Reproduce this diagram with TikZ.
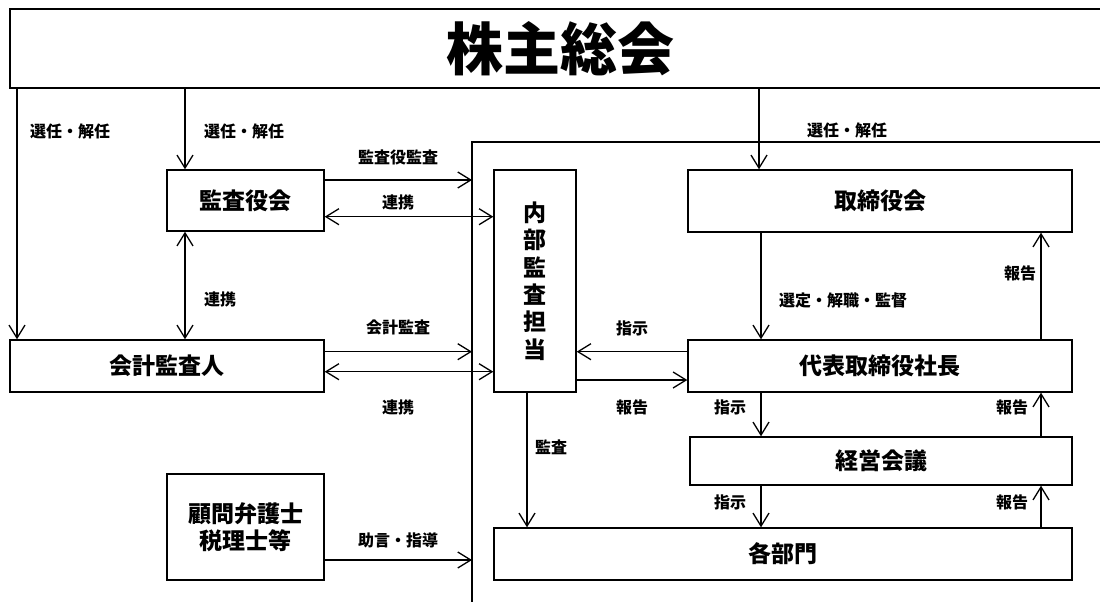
\documentclass[tikz,border=0pt]{standalone}
\usepackage{fontspec}
\setmainfont{Noto Sans CJK JP}
\usepackage{tikz}
\usetikzlibrary{arrows.meta, positioning}
\tikzstyle{box} = [draw, line width=1.4pt, inner sep=0pt, align=center, font=\bfseries\fontsize{23}{27.4}\selectfont]
\tikzstyle{lbl} = [inner sep=0pt, font=\bfseries\fontsize{16}{18}\selectfont]
\tikzstyle{line} = [draw, line width=1.3pt]
\tikzstyle{arr} = [line, -{Straight Barb[length=13pt,width=16pt]}]
\tikzstyle{darr} = [line, {Straight Barb[length=13pt,width=16pt]}-{Straight Barb[length=13pt,width=16pt]}]

\begin{document}
\begin{tikzpicture}[x=1pt, y=-1pt]
			\useasboundingbox (0,0) rectangle (1100,602);
			\node [box, minimum width=1100, minimum height=79, font=\bfseries\fontsize{57}{60}\selectfont] (soukai) at (560,48.5) {株主総会};
			\node [box, minimum width=157, minimum height=61] (kansa) at (245.5,200.5) {監査役会};
			\node [box, minimum width=314, minimum height=52] (kaikei) at (167,366) {会計監査人};
			\node [box, minimum width=157, minimum height=106] (komon) at (245.5,527) {顧問弁護士\\税理士等};
			\node [box, minimum width=82, minimum height=222] (naibu) at (535,281) {内\\部\\監\\査\\担\\当};
			\node [box, minimum width=384, minimum height=62] (torishimari) at (880,201) {取締役会};
			\node [box, minimum width=384, minimum height=52] (daihyo) at (880,366) {代表取締役社長};
			\node [box, minimum width=382, minimum height=48] (keiei) at (881,461) {経営会議};
			\node [box, minimum width=578, minimum height=52] (kakubu) at (783,554) {各部門};
			
			\node [lbl] (sennin1) at (70,131) {選任・解任};
			\node [lbl] (sennin2) at (244,131) {選任・解任};
			\node [lbl] (sennin3) at (847,130) {選任・解任};
			\node [lbl] (kansakansa) at (398,157) {監査役監査};
			\node [lbl] (renkei1) at (398,202) {連携};
			\node [lbl] (renkei2) at (220,299) {連携};
			\node [lbl] (kaikeikansa) at (398,327) {会計監査};
			\node [lbl] (renkei3) at (398,407) {連携};
			\node [lbl] (jogen) at (398,540) {助言・指導};
			\node [lbl] (shiji1) at (632,328) {指示};
			\node [lbl] (houkoku1) at (632,407) {報告};
			\node [lbl] (kansa2) at (551,447) {監査};
			\node [lbl] (sentei) at (843,300) {選定・解職・監督};
			\node [lbl] (houkoku2) at (1020,273) {報告};
			\node [lbl] (shiji2) at (730,407) {指示};
			\node [lbl] (houkoku3) at (1012,407) {報告};
			\node [lbl] (shiji3) at (730,502) {指示};
			\node [lbl] (houkoku4) at (1012,502) {報告};
			
			% company frame
			\coordinate (ft) at (472,142);
			\coordinate (fb) at (472,610);
			\coordinate (fr) at (1110,142);
			\path [line] (fb) -- (ft) -- (fr);
			
			\coordinate (xa) at (17,0);
			\coordinate (xb) at (185,0);
			\coordinate (xc) at (759,0);
			\coordinate (xd) at (761,0);
			\coordinate (xe) at (1041,0);
			\coordinate (xf) at (527,0);
			\coordinate (ya) at (0,180);
			\coordinate (yb) at (0,216.7);
			\coordinate (yc) at (0,351.7);
			\coordinate (yd) at (0,371.7);
			\coordinate (ye) at (0,560);
			\coordinate (yg) at (0,380);
			
			\path [arr] (soukai.south -| xa) -- (kaikei.north -| xa);
			\path [arr] (soukai.south -| xb) -- (kansa.north -| xb);
			\path [darr] (kansa.south -| xb) -- (kaikei.north -| xb);
			\path [arr] (soukai.south -| xc) -- (torishimari.north -| xc);
			\path [arr] (kansa.east |- ya) -- (ft |- ya);
			\path [darr] (kansa.east |- yb) -- (naibu.west |- yb);
			\path [arr] (kaikei.east |- yc) -- (ft |- yc);
			\path [darr] (kaikei.east |- yd) -- (naibu.west |- yd);
			\path [arr] (komon.east |- ye) -- (ft |- ye);
			\path [arr] (daihyo.west |- yc) -- (naibu.east |- yc);
			\path [arr] (naibu.east |- yg) -- (daihyo.west |- yg);
			\path [arr] (naibu.south -| xf) -- (kakubu.north -| xf);
			\path [arr] (torishimari.south -| xd) -- (daihyo.north -| xd);
			\path [arr] (daihyo.north -| xe) -- (torishimari.south -| xe);
			\path [arr] (daihyo.south -| xd) -- (keiei.north -| xd);
			\path [arr] (keiei.north -| xe) -- (daihyo.south -| xe);
			\path [arr] (keiei.south -| xd) -- (kakubu.north -| xd);
			\path [arr] (kakubu.north -| xe) -- (keiei.south -| xe);
		\end{tikzpicture}
\end{document}
